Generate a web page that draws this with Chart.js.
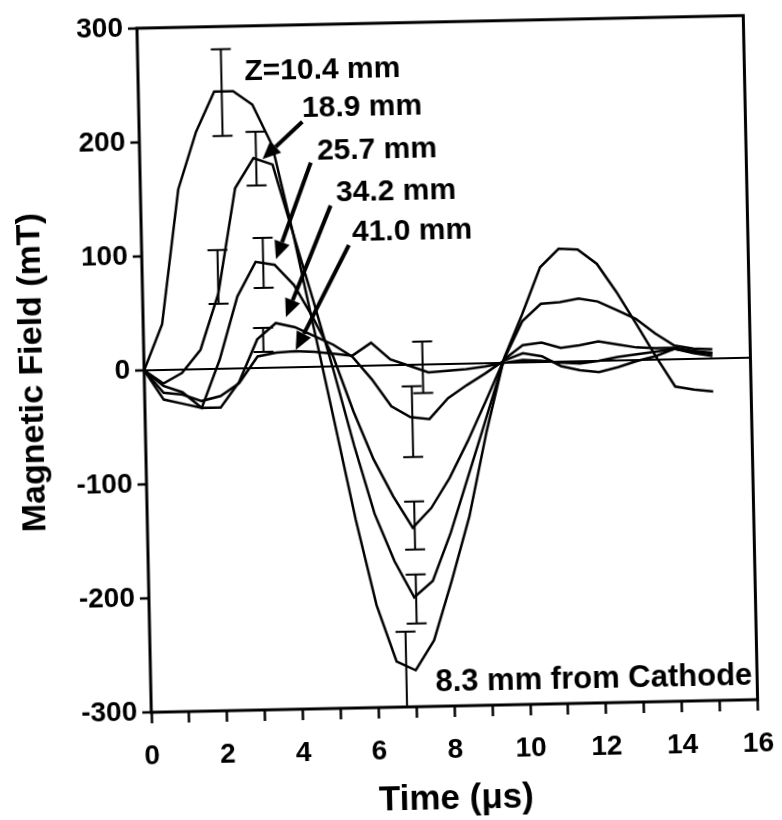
<!DOCTYPE html>
<html>
<head>
<meta charset="utf-8">
<script src="https://cdn.jsdelivr.net/npm/chart.js@4.4.0/dist/chart.umd.min.js"></script>
<style>
  html, body { margin: 0; padding: 0; background: #fff; overflow: hidden; }
  /* the scanned figure sits slightly tilted */
  #wrap { width: 782px; height: 820px; transform: rotate(-1.2deg); transform-origin: 449px 361px; }
</style>
</head>
<body>
<div id="wrap"><canvas id="field" width="782" height="820"></canvas></div>
<script>
// time in microseconds
const times = [0, 0.5, 1, 1.5, 2, 2.5, 3, 3.5, 4, 4.5, 5, 5.5, 6, 6.5, 7, 7.5,
               8, 8.5, 9, 9.5, 10, 10.5, 11, 11.5, 12, 12.5, 13, 13.5, 14, 14.5, 15];

// magnetic field (mT) at each axial position
const fieldZ104 = [0, 40, 158, 208, 243, 243, 231, 195, 118, 34, -50, -135, -210, -260, -268, -242,
                   -190, -134, -60, 4, 42, 83, 99, 98, 85, 60, 32, 3, -24, -27, -29];
const fieldZ189 = [0, -12, -3, 17, 66, 158, 184, 178, 118, 58, -4, -70, -130, -172, -204, -190,
                   -148, -98, -48, 3, 36, 51, 52, 55, 52, 44, 36, 23, 12, 9, 8];
const fieldZ257 = [0, -14, -20, -34, 8, 63, 93, 90, 72, 42, 8, -40, -82, -115, -143, -126,
                   -100, -68, -33, 3, 15, 17, 12, 14, 17, 14, 11, 10, 10, 7, 5];
const fieldZ342 = [0, -26, -30, -34, -34, -12, 25, 39, 35, 27, 19, 8, -12, -36, -46, -48,
                   -30, -19, -9, 2, 8, 5, -4, -8, -10, -6, -1, 3, 9, 5, 2];
const fieldZ410 = [0, -20, -22, -28, -24, -13, 10, 13, 14, 13, 11, 9, 20, 5, -1, -7,
                   -6, -5, -3, 0, 2, 1, -1, -2, 0, 3, 5, 7, 9, 6, 4];

const seriesNames = ['Z=10.4 mm', '18.9 mm', '25.7 mm', '34.2 mm', '41.0 mm'];
const seriesValues = [fieldZ104, fieldZ189, fieldZ257, fieldZ342, fieldZ410];

// error bars: time, lower, upper (mT)
const errT  = [2.2, 2.0, 3.07, 3.2, 3.16, 6.75, 7.05, 7.05, 7.05, 7.35];
const errLo = [204, 57, 160, 70, 14, -300, -227, -162, -81, -25];
const errHi = [280, 104, 207, 114, 35, -234, -184, -120, -19, 20];

// curve labels and their anchor (time, mT)
const noteText = ['Z=10.4 mm', '18.9 mm', '25.7 mm', '34.2 mm', '41.0 mm'];
const noteT = [2.81, 4.31, 4.68, 5.16, 5.56];
const noteV = [260, 226, 189, 152, 117];
const footNote = '8.3 mm from Cathode';
const footT = 7.51, footV = -279;

// arrows from labels to curves
const arrowFromT = [4.31, 4.51, 5.01, 5.47];
const arrowFromV = [215, 179, 141, 106];
const arrowToT = [3.24, 3.54, 3.77, 4.01];
const arrowToV = [183, 95, 44, 15];

const yTicks = [-300, -200, -100, 0, 100, 200, 300];
const xLabels = [0, 2, 4, 6, 8, 10, 12, 14, 16];

const FONT = '"Liberation Sans", Arial, sans-serif';

const overlay = {
  id: 'overlay',
  afterDatasetsDraw(chart) {
    const { ctx, chartArea: a, scales: { x, y } } = chart;
    ctx.save();
    ctx.strokeStyle = '#000';
    ctx.fillStyle = '#000';

    // frame
    ctx.lineWidth = 3;
    ctx.strokeRect(a.left, a.top, a.right - a.left, a.bottom - a.top);

    // error bars
    ctx.lineWidth = 2;
    errT.forEach((t, i) => {
      const px = x.getPixelForValue(t);
      const lo = y.getPixelForValue(errLo[i]);
      const hi = y.getPixelForValue(errHi[i]);
      ctx.beginPath();
      ctx.moveTo(px, lo); ctx.lineTo(px, hi);
      ctx.moveTo(px - 10, lo); ctx.lineTo(px + 10, lo);
      ctx.moveTo(px - 10, hi); ctx.lineTo(px + 10, hi);
      ctx.stroke();
    });

    // arrows
    ctx.lineWidth = 4;
    arrowFromT.forEach((t, i) => {
      const x0 = x.getPixelForValue(t), y0 = y.getPixelForValue(arrowFromV[i]);
      const x1 = x.getPixelForValue(arrowToT[i]), y1 = y.getPixelForValue(arrowToV[i]);
      const ang = Math.atan2(y1 - y0, x1 - x0);
      const head = 18, half = 8;
      const bx = x1 - head * Math.cos(ang), by = y1 - head * Math.sin(ang);
      ctx.beginPath(); ctx.moveTo(x0, y0); ctx.lineTo(bx, by); ctx.stroke();
      ctx.beginPath();
      ctx.moveTo(x1, y1);
      ctx.lineTo(bx + half * Math.sin(ang), by - half * Math.cos(ang));
      ctx.lineTo(bx - half * Math.sin(ang), by + half * Math.cos(ang));
      ctx.closePath();
      ctx.fill();
    });

    // labels
    ctx.textAlign = 'left';
    ctx.textBaseline = 'middle';
    ctx.font = 'bold 30px ' + FONT;
    noteText.forEach((s, i) => {
      ctx.fillText(s, x.getPixelForValue(noteT[i]), y.getPixelForValue(noteV[i]));
    });
    ctx.font = 'bold 31px ' + FONT;
    ctx.fillText(footNote, x.getPixelForValue(footT), y.getPixelForValue(footV));
    ctx.restore();
  }
};

new Chart(document.getElementById('field'), {
  type: 'line',
  data: {
    datasets: seriesValues.map((vals, k) => ({
      label: seriesNames[k],
      data: times.map((t, i) => ({ x: t, y: vals[i] })),
      borderColor: '#000',
      borderWidth: 2.5,
      pointRadius: 0,
      tension: 0,
      fill: false
    }))
  },
  options: {
    responsive: false,
    animation: false,
    devicePixelRatio: 1,
    layout: { autoPadding: false, padding: { left: 0, right: 28, top: 16, bottom: 0 } },
    plugins: { legend: { display: false }, tooltip: { enabled: false } },
    scales: {
      x: {
        type: 'linear',
        min: 0, max: 16,
        afterFit: s => { s.height = 114; },
        border: { display: false },
        grid: { drawOnChartArea: false, tickLength: 11, tickColor: '#000', tickWidth: 2.5 },
        ticks: {
          stepSize: 1,
          autoSkip: false,
          maxRotation: 0,
          padding: 16,
          color: '#000',
          font: { family: FONT, size: 28, weight: 'bold' },
          callback: v => xLabels.includes(v) ? String(v) : ''
        },
        title: {
          display: true,
          text: 'Time (μs)',
          color: '#000',
          font: { family: FONT, size: 35, weight: 'bold', lineHeight: 1 },
          padding: { top: 0, bottom: 3 }
        }
      },
      y: {
        min: -300, max: 300,
        afterFit: s => { s.width = 144; },
        afterBuildTicks: s => { s.ticks = yTicks.map(v => ({ value: v })); },
        border: { display: false },
        grid: {
          color: c => (c.tick && c.tick.value === 0) ? '#000' : 'rgba(0,0,0,0)',
          lineWidth: 2,
          tickLength: 9,
          tickColor: '#000',
          tickWidth: 2.5
        },
        ticks: {
          padding: 5,
          color: '#000',
          font: { family: FONT, size: 28, weight: 'bold' }
        },
        title: {
          display: true,
          text: 'Magnetic Field (mT)',
          color: '#000',
          font: { family: FONT, size: 34, weight: 'bold', lineHeight: 1 },
          padding: { top: 16, bottom: 0 }
        }
      }
    }
  },
  plugins: [overlay]
});
</script>
</body>
</html>
